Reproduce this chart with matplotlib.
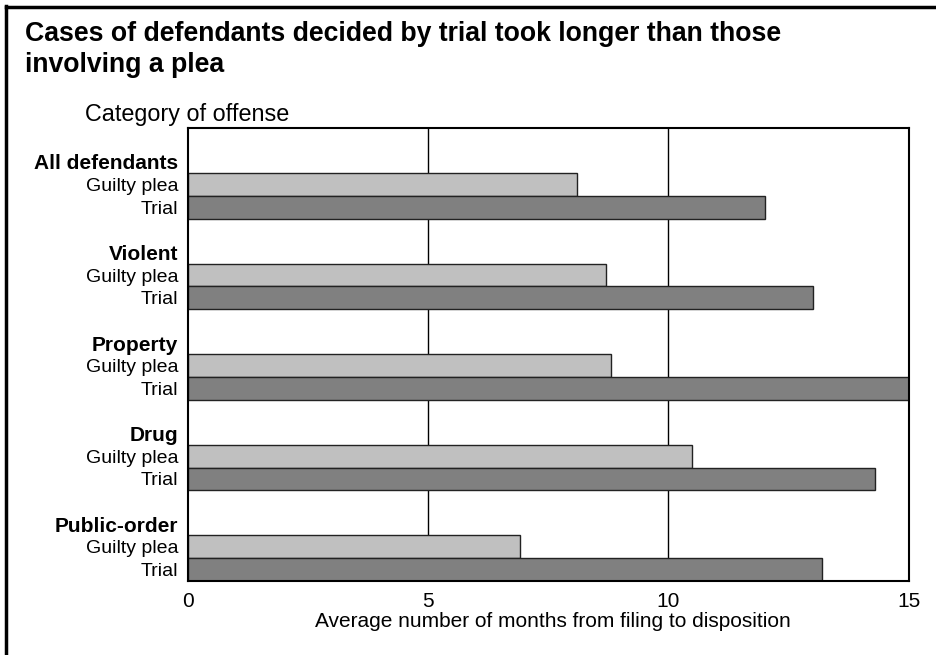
import matplotlib
matplotlib.use("Agg")
import matplotlib.pyplot as plt
from matplotlib.lines import Line2D

plt.rcParams['font.family'] = ['Liberation Sans', 'DejaVu Sans']

categories = ["All defendants", "Violent", "Property", "Drug", "Public-order"]
series_names = ["Guilty plea", "Trial"]
guilty_plea = [8.1, 8.7, 8.8, 10.5, 6.9]
trial = [12.0, 13.0, 15.0, 14.3, 13.2]
x_ticks = [0, 5, 10, 15]

title = "Cases of defendants decided by trial took longer than those\ninvolving a plea"
y_title = "Category of offense"
x_label = "Average number of months from filing to disposition"

c_guilty = "#c0c0c0"
c_trial = "#808080"

W, H = 937, 655
fig = plt.figure(figsize=(W / 100, H / 100), dpi=100)
ax = fig.add_axes([188 / W, 1 - 580.7 / H, 720.7 / W, 452.7 / H])

n = len(categories)
slots = 4
ypos_head = [slots * g + 1 for g in range(n)]
ypos_g = [slots * g + 2 for g in range(n)]
ypos_t = [slots * g + 3 for g in range(n)]

# gridlines behind bars
for xv in x_ticks[1:-1]:
    ax.axvline(xv, color="black", lw=1.0, zorder=0)

ax.barh(ypos_g, guilty_plea, height=1.0, color=c_guilty, edgecolor="#222222", linewidth=1.0, zorder=2)
ax.barh(ypos_t, trial, height=1.0, color=c_trial, edgecolor="#222222", linewidth=1.0, zorder=2)

ax.set_xlim(0, 15)
ax.set_ylim(slots * n - 0.5, -0.5)

ticks = []
labels = []
for g in range(n):
    ticks += [ypos_head[g], ypos_g[g], ypos_t[g]]
    labels += [categories[g], series_names[0], series_names[1]]
ax.set_yticks(ticks)
ax.set_yticklabels(labels, fontsize=14)
for i, t in enumerate(ax.get_yticklabels()):
    if i % 3 == 0:
        t.set_fontweight("bold")
        t.set_fontsize(15)
ax.tick_params(axis="y", length=0, pad=7)

ax.set_xticks(x_ticks)
ax.set_xticklabels([str(v) for v in x_ticks], fontsize=15)
ax.tick_params(axis="x", length=0, pad=8)
ax.set_xlabel(x_label, fontsize=15, labelpad=3)
ax.xaxis.set_label_coords((553 - 188) / 720.7, -0.070)

for s in ax.spines.values():
    s.set_linewidth(1.5)
    s.set_color("black")

fig.text(25 / W, 1 - 21 / H, title, fontsize=19.2, fontweight="bold", va="top", ha="left", linespacing=1.27)
fig.text(85 / W, 1 - 115 / H, y_title, fontsize=16.8, va="center", ha="left")

# figure frame (left and top)
fig.add_artist(Line2D([6 / W, 6 / W], [0, 1 - 6 / H], transform=fig.transFigure, color="black", lw=2.5))
fig.add_artist(Line2D([6 / W, 1], [1 - 7 / H, 1 - 7 / H], transform=fig.transFigure, color="black", lw=2.5))

fig.savefig("out.png", dpi=100)
